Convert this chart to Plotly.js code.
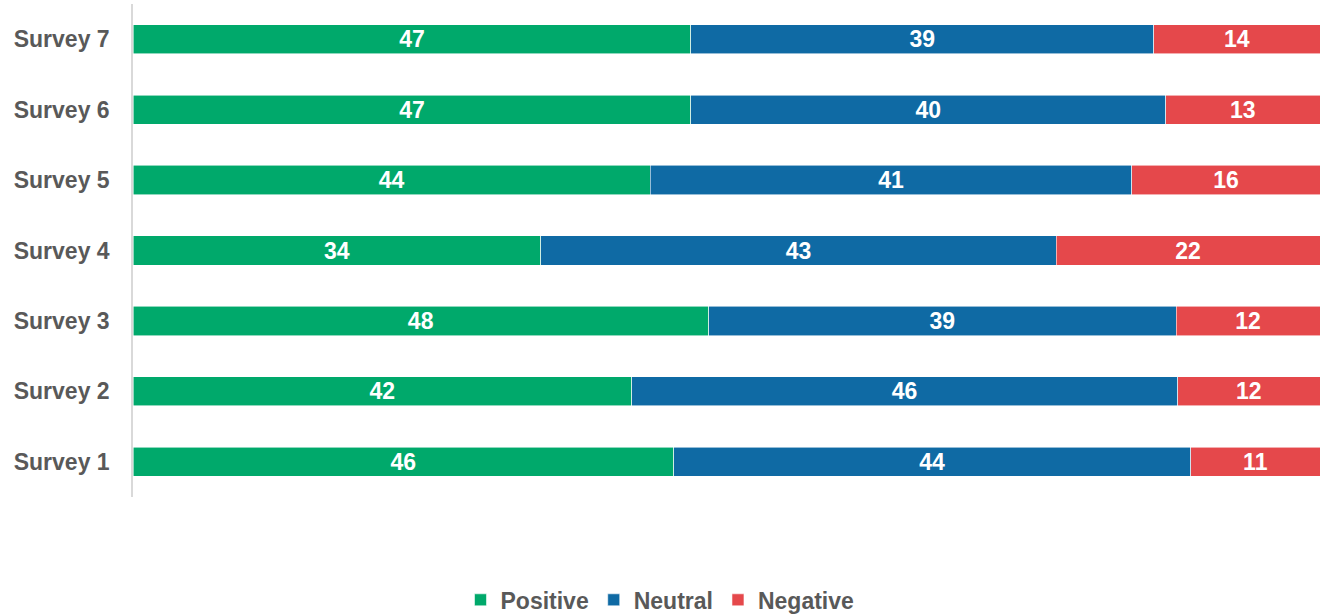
<!DOCTYPE html>
<html>
<head>
<meta charset="utf-8">
<script src="https://cdn.plot.ly/plotly-3.0.1.min.js"></script>
<style>
  html, body { margin: 0; padding: 0; background: #ffffff; }
  #chart { width: 1320px; height: 614px; }
</style>
</head>
<body>
<div id="chart"></div>
<script>
const surveys  = ["Survey 1", "Survey 2", "Survey 3", "Survey 4", "Survey 5", "Survey 6", "Survey 7"];
const positive = [46, 42, 48, 34, 44, 47, 47];
const neutral  = [44, 46, 39, 43, 41, 40, 39];
const negative = [11, 12, 12, 22, 16, 13, 14];

const seriesNames  = ["Positive", "Neutral", "Negative"];
const seriesValues = [positive, neutral, negative];
const seriesColors = ["#00A96B", "#0F6AA4", "#E5484B"];

const FONT = "Liberation Sans, Arial, sans-serif";

const traces = seriesNames.map((name, i) => ({
  type: "bar",
  orientation: "h",
  name: name,
  y: surveys,
  x: seriesValues[i],
  text: seriesValues[i].map(String),
  texttemplate: "%{text}",
  textposition: "inside",
  insidetextanchor: "middle",
  textangle: 0,
  constraintext: "none",
  insidetextfont: { family: FONT, size: 23, color: "#ffffff", weight: "bold" },
  marker: { color: seriesColors[i], line: { color: "rgba(255,255,255,0.7)", width: 0.8 } },
  hoverinfo: "name+y+text"
}));

const layout = {
  width: 1320,
  height: 614,
  margin: { l: 133, r: 0, t: 4, b: 117, autoexpand: false },
  barmode: "stack",
  barnorm: "percent",
  bargap: 0.585,
  paper_bgcolor: "#ffffff",
  plot_bgcolor: "#ffffff",
  font: { family: FONT, color: "#595959" },
  xaxis: {
    range: [0, 100],
    visible: false,
    showgrid: false,
    zeroline: false,
    fixedrange: true
  },
  yaxis: {
    type: "category",
    automargin: false,
    showgrid: false,
    zeroline: false,
    showline: true,
    linecolor: "#D9D9D9",
    linewidth: 1.5,
    ticks: "",
    ticklabelstandoff: 17,
    tickfont: { family: FONT, size: 23, color: "#595959", weight: "bold" },
    fixedrange: true
  },
  showlegend: true,
  legend: {
    orientation: "h",
    xref: "container",
    yref: "container",
    x: 0.5,
    xanchor: "center",
    y: 0.023,
    yanchor: "middle",
    itemwidth: 30,
    traceorder: "normal",
    font: { family: FONT, size: 23, color: "#595959", weight: "bold" }
  }
};

Plotly.newPlot("chart", traces, layout, { displayModeBar: false });
</script>
</body>
</html>
